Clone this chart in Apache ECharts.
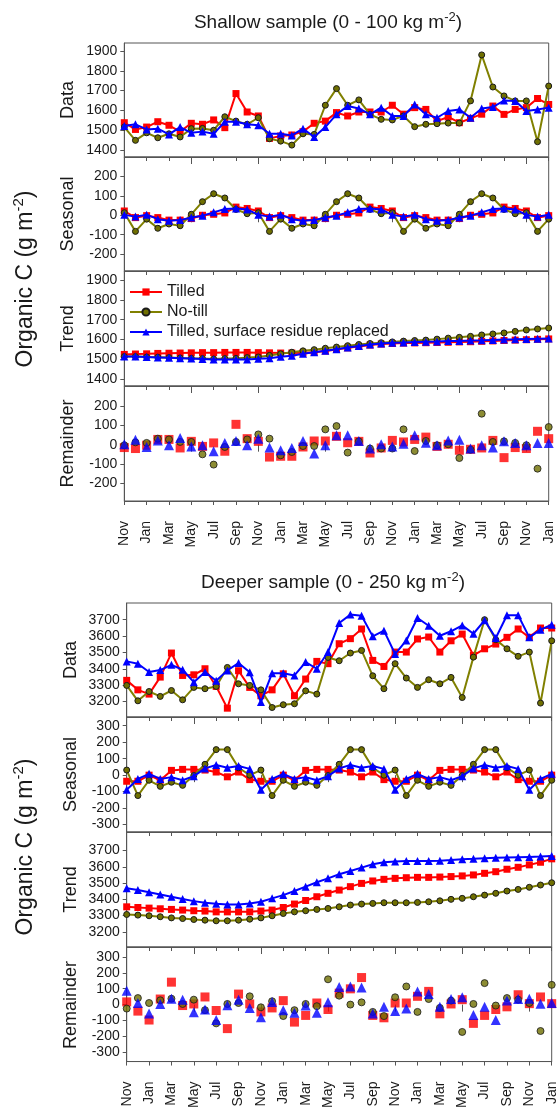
<!DOCTYPE html>
<html><head><meta charset="utf-8">
<script src="https://cdn.jsdelivr.net/npm/echarts@6/dist/echarts.min.js"></script>
<style>html,body{margin:0;padding:0;background:#fff}#c{width:560px;height:1111px}</style>
</head><body><div id="c"></div>
<script>
// ---- tick labels ----
const xTickLabels = ['Nov','Jan','Mar','May','Jul','Sep','Nov','Jan','Mar','May','Jul','Sep','Nov','Jan','Mar','May','Jul','Sep','Nov','Jan'];
const seriesNames = ['Tilled','No-till','Tilled, surface residue replaced'];

// ---- Shallow sample (0 - 100 kg m-2), monthly Nov..Jan (39 months) ----
const shDataTilled = [1538,1504,1516,1543,1525,1493,1535,1530,1552,1513,1685,1592,1572,1459,1471,1476,1493,1535,1546,1589,1572,1592,1592,1592,1626,1581,1614,1605,1546,1567,1538,1560,1581,1622,1580,1605,1614,1660,1630];
const shDataNoTill = [1516,1449,1487,1462,1482,1466,1508,1509,1500,1568,1546,1530,1563,1457,1445,1425,1482,1479,1626,1710,1626,1653,1580,1555,1552,1572,1518,1530,1533,1536,1536,1648,1880,1718,1673,1648,1648,1442,1723];
const shDataResidue = [1521,1530,1504,1508,1479,1516,1487,1493,1482,1543,1543,1530,1525,1482,1482,1474,1508,1466,1516,1580,1622,1610,1580,1614,1572,1572,1630,1580,1563,1597,1605,1563,1610,1617,1650,1648,1597,1605,1614];

const shSeasTilled = [22,-12,-2,-12,-25,-25,-17,0,5,12,42,35,22,-12,-2,-12,-25,-25,-17,0,5,12,42,35,22,-12,-2,-12,-25,-25,-17,0,5,12,42,35,22,-12,-2];
const shSeasNoTill = [13,-83,-20,-67,-45,-54,5,70,111,89,30,8,13,-83,-20,-67,-45,-54,5,70,111,89,30,8,13,-83,-20,-67,-45,-54,5,70,111,89,30,8,13,-83,-20];
const shSeasResidue = [2,-7,3,-20,-28,-25,-12,-2,15,32,35,30,2,-7,3,-20,-28,-25,-12,-2,15,32,35,30,2,-7,3,-20,-28,-25,-12,-2,15,32,35,30,2,-7,3];

const shTrendTilled = [1525,1527,1528,1530,1531,1532,1533,1534,1534,1535,1535,1535,1534,1533,1532,1532,1533,1536,1542,1550,1558,1565,1572,1577,1580,1582,1583,1584,1585,1586,1588,1589,1591,1593,1595,1597,1599,1601,1603];
const shTrendNoTill = [1514,1514,1512,1511,1509,1507,1505,1504,1502,1504,1505,1509,1512,1520,1528,1536,1543,1549,1556,1562,1569,1575,1580,1584,1588,1592,1595,1597,1602,1607,1611,1616,1623,1628,1633,1641,1648,1653,1658];
const shTrendResidue = [1515,1514,1512,1510,1508,1506,1504,1502,1500,1499,1499,1500,1503,1506,1513,1518,1528,1536,1544,1551,1560,1567,1575,1580,1584,1585,1587,1589,1590,1592,1593,1595,1596,1598,1600,1601,1603,1604,1605];

const shRemTilled = [-15,-20,-3,27,27,-17,17,-9,9,-34,105,31,17,-64,-60,-60,-12,19,19,43,10,17,-43,-17,22,14,27,39,-9,2,-29,-24,-17,22,-67,-15,-20,69,31];
const shRemNoTill = [-3,12,9,31,27,14,14,-50,-103,-12,14,27,53,31,-55,-38,-7,-7,79,96,-41,17,-20,-20,-20,79,-33,19,-3,2,-69,-26,160,14,17,9,-3,-124,91];
const shRemResidue = [2,26,-12,22,-3,34,-9,-3,-34,9,19,-3,31,-15,-29,-17,19,-46,-3,48,48,19,-20,2,-9,5,48,10,-3,22,26,-20,-3,-15,17,9,-3,9,9];

// ---- Deeper sample (0 - 250 kg m-2) ----
const dpDataTilled = [3329,3271,3245,3349,3496,3359,3363,3400,3292,3159,3388,3286,3235,3271,3369,3235,3337,3445,3431,3553,3584,3643,3451,3414,3502,3502,3582,3594,3502,3571,3612,3482,3522,3551,3592,3643,3592,3649,3649];
const dpDataNoTill = [3298,3204,3261,3231,3267,3210,3286,3278,3292,3408,3308,3298,3271,3163,3180,3186,3265,3245,3469,3449,3496,3512,3357,3278,3431,3343,3286,3333,3308,3347,3224,3471,3700,3578,3522,3476,3502,3190,3571];
const dpDataResidue = [3445,3431,3380,3392,3424,3394,3318,3380,3327,3390,3435,3378,3196,3373,3373,3359,3441,3400,3502,3680,3731,3724,3598,3633,3490,3573,3710,3663,3602,3629,3665,3614,3696,3588,3727,3727,3592,3639,3669];

const dpSeasTilled = [-37,-37,0,-31,29,35,35,31,19,-10,19,-27,-37,-37,0,-31,29,35,35,31,19,-10,19,-27,-37,-37,0,-31,29,35,35,31,19,-10,19,-27,-37,-37,0];
const dpSeasNoTill = [31,-124,-31,-68,-43,-62,-2,66,155,155,45,0,31,-124,-31,-68,-43,-62,-2,66,155,155,45,0,31,-124,-31,-68,-43,-62,-2,66,155,155,45,0,31,-124,-31];
const dpSeasResidue = [-89,-23,8,-23,-12,-31,-6,41,62,45,56,38,-89,-23,8,-23,-12,-31,-6,41,62,45,56,38,-89,-23,8,-23,-12,-31,-6,41,62,45,56,38,-89,-23,8];

const dpTrendTilled = [3354,3350,3346,3342,3338,3334,3330,3328,3323,3323,3323,3323,3328,3334,3350,3371,3393,3416,3437,3457,3478,3498,3513,3523,3529,3533,3535,3535,3537,3540,3544,3550,3560,3570,3585,3597,3612,3628,3649];
const dpTrendNoTill = [3307,3303,3299,3293,3286,3282,3276,3272,3268,3268,3272,3278,3286,3299,3313,3323,3330,3338,3344,3354,3365,3371,3375,3379,3379,3379,3381,3385,3391,3400,3406,3416,3426,3437,3451,3461,3474,3488,3502];
const dpTrendResidue = [3468,3457,3443,3430,3416,3402,3389,3379,3373,3369,3369,3375,3385,3406,3426,3451,3478,3505,3529,3554,3574,3595,3616,3628,3632,3636,3636,3636,3638,3642,3647,3649,3653,3655,3657,3659,3661,3663,3667];

const dpRemTilled = [17,-41,-97,35,141,-6,4,48,-37,-151,66,4,-46,-21,25,-110,-68,10,-31,72,99,170,-68,-83,10,10,52,83,-58,4,31,-118,-68,-31,-14,62,6,48,6];
const dpRemNoTill = [-25,41,10,27,37,4,31,-35,-118,4,10,52,-17,21,-72,-35,4,-10,159,56,0,14,-46,-72,46,114,-46,35,-21,25,-172,4,135,-6,41,31,10,-166,124];
const dpRemResidue = [87,10,-56,4,37,31,-48,-31,-97,-4,31,-21,-79,17,-35,-52,-6,-52,14,110,114,108,-56,-14,-41,-25,83,66,-14,35,46,-66,-14,-97,25,35,37,6,10];

// ---- axis labels ----
const shDataTicks = [1400,1500,1600,1700,1800,1900];
const shResTicks = [-200,-100,0,100,200];
const dpDataTicks = [3200,3300,3400,3500,3600,3700];
const dpResTicks = [-300,-200,-100,0,100,200,300];

// ---------------- build chart ----------------
const FONT = '"Liberation Sans", Arial, Helvetica, sans-serif';
const TXT = '#1a1a1a';
const AX = '#555';

const panels = [
  {top:43, h:114, left:124.3, width:424.4, min:1365, max:1940, ticks:shDataTicks, d:[shDataTilled,shDataNoTill,shDataResidue], type:'line', name:'Data', bottom:false},
  {top:157, h:114, left:124.3, width:424.4, min:-287, max:300, ticks:shResTicks, d:[shSeasTilled,shSeasNoTill,shSeasResidue], type:'line', name:'Seasonal', bottom:false},
  {top:271, h:115, left:124.3, width:424.4, min:1366, max:1945, ticks:shDataTicks, d:[shTrendTilled,shTrendNoTill,shTrendResidue], type:'line', name:'Trend', bottom:false},
  {top:386, h:115, left:124.3, width:424.4, min:-291, max:303, ticks:shResTicks, d:[shRemTilled,shRemNoTill,shRemResidue], type:'scatter', name:'Remainder', bottom:true},
  {top:603, h:114, left:126.7, width:425, min:3105, max:3802, ticks:dpDataTicks, d:[dpDataTilled,dpDataNoTill,dpDataResidue], type:'line', name:'Data', bottom:false},
  {top:717, h:115, left:126.7, width:425, min:-345, max:353, ticks:dpResTicks, d:[dpSeasTilled,dpSeasNoTill,dpSeasResidue], type:'line', name:'Seasonal', bottom:false},
  {top:832, h:115, left:126.7, width:425, min:3107, max:3814, ticks:dpDataTicks, d:[dpTrendTilled,dpTrendNoTill,dpTrendResidue], type:'line', name:'Trend', bottom:false},
  {top:947, h:116, left:126.7, width:425, min:-358, max:362, ticks:dpResTicks, d:[dpRemTilled,dpRemNoTill,dpRemResidue], type:'scatter', name:'Remainder', bottom:true}
];

const styles = [
  {symbol:'rect', size:7, rsize:9, color:'#ff0000', line:'#ff0000', border:'#ff0000', bw:0},
  {symbol:'circle', size:6, rsize:7, color:'#6f6f00', line:'#808000', border:'#1a1a1a', bw:1},
  {symbol:'triangle', size:8, rsize:10, color:'#0000ff', line:'#0000ff', border:'#0000ff', bw:0}
];

const minorTicks = [];
for (let i = 0; i < xTickLabels.length; i++) minorTicks.push(i*2);
const majorTicks = [0,6,12,18,24,30,36];

const grid = [], xAxis = [], yAxis = [], series = [], graphic = [];
panels.forEach((p, k) => {
  grid.push({left:p.left, top:p.top, width:p.width, height:p.h, show:true, borderColor:AX, borderWidth:1, backgroundColor:'transparent'});
  xAxis.push({type:'value', gridIndex:k, min:0, max:38, position:'bottom',
    axisLine:{show:true, onZero:false, lineStyle:{color:AX, width:1}},
    axisTick:{show:true, inside:false, length:4, customValues:minorTicks, lineStyle:{color:AX}},
    splitLine:{show:false},
    axisLabel:{show:p.bottom, rotate:90, margin:20, fontSize:14, color:TXT, fontFamily:FONT,
      customValues:minorTicks, formatter:(v)=>xTickLabels[Math.round(v/2)]}
  });
  xAxis.push({type:'value', gridIndex:k, min:0, max:38, position:'bottom',
    axisLine:{show:false}, splitLine:{show:false}, axisLabel:{show:false},
    axisTick:{show:true, inside:false, length:7, customValues:majorTicks, lineStyle:{color:AX}}
  });
  yAxis.push({type:'value', gridIndex:k, min:p.min, max:p.max,
    axisLine:{show:true, onZero:false, lineStyle:{color:AX}},
    axisTick:{show:true, inside:false, length:4, customValues:p.ticks, lineStyle:{color:AX}},
    splitLine:{show:false},
    axisLabel:{customValues:p.ticks, fontSize:14, color:TXT, fontFamily:FONT, margin:7, formatter:(v)=>String(v)}
  });
  p.d.forEach((arr, s) => {
    const st = styles[s];
    const pts = arr.map((v, i) => [i, v]);
    const base = {name:seriesNames[s], xAxisIndex:2*k, yAxisIndex:k, data:pts, symbol:st.symbol,
      itemStyle:{color:st.color, borderColor:st.border, borderWidth:st.bw}, z:2+s, animation:false,
      emphasis:{disabled:true}};
    if (p.type === 'line') {
      series.push(Object.assign(base, {type:'line', symbolSize:st.size, showSymbol:true,
        lineStyle:{color:st.line, width:2}}));
    } else {
      series.push(Object.assign(base, {type:'scatter', symbolSize:st.rsize}));
    }
  });
  graphic.push({type:'text', x:p.left - 56, y:p.top + p.h/2, rotation:Math.PI/2,
    style:{text:p.name, fontSize:18, fontFamily:FONT, fill:TXT, align:'center', verticalAlign:'middle'}});
});

const supRich = {sup:{fontSize:13, fontFamily:FONT, fill:TXT, padding:[0,0,12,0]}};
graphic.push({type:'text', x:328, y:23, style:{text:'Shallow sample (0 - 100 kg m{sup|-2})', rich:supRich, fontSize:19, fontFamily:FONT, fill:TXT, align:'center', verticalAlign:'middle'}});
graphic.push({type:'text', x:333, y:583, style:{text:'Deeper sample (0 - 250 kg m{sup|-2})', rich:supRich, fontSize:19, fontFamily:FONT, fill:TXT, align:'center', verticalAlign:'middle'}});
const supBig = {sup:{fontSize:15, fontFamily:FONT, fill:TXT, padding:[0,0,14,0]}};
graphic.push({type:'text', x:26, y:279, rotation:Math.PI/2, style:{text:'Organic C (g m{sup|-2})', rich:supBig, fontSize:23, fontFamily:FONT, fill:TXT, align:'center', verticalAlign:'middle'}});
graphic.push({type:'text', x:26, y:847, rotation:Math.PI/2, style:{text:'Organic C (g m{sup|-2})', rich:supBig, fontSize:23, fontFamily:FONT, fill:TXT, align:'center', verticalAlign:'middle'}});

const option = {
  animation:false,
  backgroundColor:'#fff',
  textStyle:{fontFamily:FONT},
  grid, xAxis, yAxis, series, graphic,
  legend:{data:seriesNames, orient:'vertical', left:124, top:279, itemWidth:32, itemHeight:9, itemGap:4,
    selectedMode:false, textStyle:{fontSize:16, color:TXT, fontFamily:FONT}}
};
const chart = echarts.init(document.getElementById('c'), null, {renderer:'canvas'});
chart.setOption(option);
</script>
</body></html>
